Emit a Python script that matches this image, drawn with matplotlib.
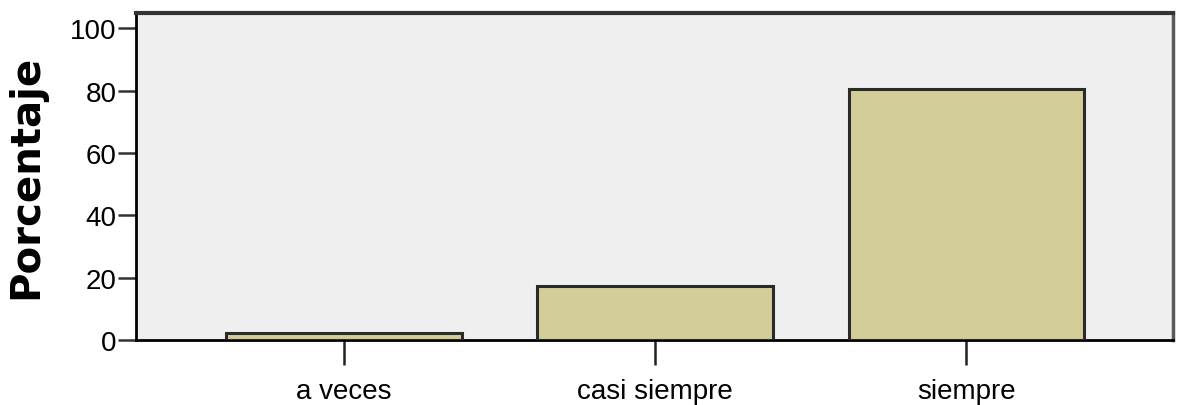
import matplotlib
matplotlib.use("Agg")
import matplotlib.pyplot as plt

categories = ["a veces", "casi siempre", "siempre"]
percentages = [2.2, 17.4, 80.4]
y_ticks = [0, 20, 40, 60, 80, 100]

BAR_COLOR = "#d3ce98"
BG_COLOR = "#efefef"

fig = plt.figure(figsize=(11.77, 4.06), dpi=100)
ax = fig.add_axes([0.1155, 0.160, 0.881, 0.8065])
ax.set_facecolor(BG_COLOR)

x = list(range(len(categories)))
ax.bar(x, percentages, width=0.758, color=BAR_COLOR, edgecolor="#2a2a2a",
       linewidth=2.2, zorder=3)

ax.set_xlim(-0.668, 2.663)
ax.set_ylim(0, 105)

tick_font = {"family": ["Liberation Sans", "DejaVu Sans"], "size": 20}
ax.set_xticks(x)
ax.set_xticklabels(categories, fontdict=tick_font)
ax.set_yticks(y_ticks)
ax.set_yticklabels([str(t) for t in y_ticks], fontdict=tick_font)

ax.tick_params(axis="y", length=13, width=1.8, pad=1, color="#333333")
ax.tick_params(axis="x", length=18, width=1.8, pad=9, color="#222222")

ax.set_ylabel("Porcentaje", fontsize=29, fontweight="bold",
              family=["DejaVu Sans"], labelpad=17)

for side in ["left", "bottom"]:
    ax.spines[side].set_color("black")
    ax.spines[side].set_linewidth(2)
ax.spines["top"].set_color("#333333")
ax.spines["top"].set_linewidth(3)
ax.spines["right"].set_color("#5a5a5a")
ax.spines["right"].set_linewidth(2.5)

fig.savefig("out.png", dpi=100)
